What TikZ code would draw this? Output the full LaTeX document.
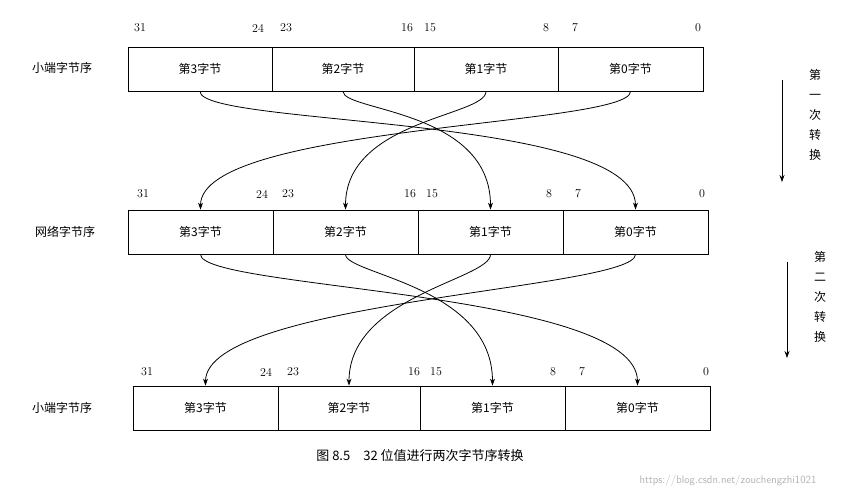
\documentclass[tikz,border=0pt]{standalone}
\usepackage{fontspec}
\newfontfamily\cjk{Noto Sans CJK SC}
\usetikzlibrary{arrows.meta}
\begin{document}
\begin{tikzpicture}[x=1pt,y=-1pt,
  cell/.style={draw,thick,minimum height=44pt,inner sep=0pt,font=\cjk\fontsize{12}{12}\selectfont},
  num/.style={font=\fontsize{12}{12}\selectfont,inner sep=0pt},
  lab/.style={font=\cjk\fontsize{12}{12}\selectfont,inner sep=0pt},
  conn/.style={thick,-{Stealth[length=7pt,width=5pt]}}]
\useasboundingbox (0,0) rectangle (865,500);
% row 1
\node[cell,minimum width=144pt] (a3) at (200,69) {第3字节};
\node[cell,minimum width=142pt] (a2) at (343,69) {第2字节};
\node[cell,minimum width=144pt] (a1) at (486,69) {第1字节};
\node[cell,minimum width=145pt] (a0) at (630.5,69) {第0字节};
\node[lab] (l1) at (62,68) {小端字节序};
\foreach \t/\x [count=\i] in {31/140,24/258,23/286,16/407,15/430,8/546,7/575,0/698}
  \node[num] (n1\i) at (\x,28) {\t};
% row 2
\node[cell,minimum width=145pt] (b3) at (200.5,232) {第3字节};
\node[cell,minimum width=145pt] (b2) at (345.5,232) {第2字节};
\node[cell,minimum width=145pt] (b1) at (490.5,232) {第1字节};
\node[cell,minimum width=145pt] (b0) at (635.5,232) {第0字节};
\node[lab] (l2) at (65,232) {网络字节序};
\foreach \t/\x [count=\i] in {31/143,24/262,23/288,16/410,15/432,8/549,7/578,0/702}
  \node[num] (n2\i) at (\x,194) {\t};
% row 3
\node[cell,minimum width=145pt] (c3) at (205.5,408) {第3字节};
\node[cell,minimum width=142pt] (c2) at (349,408) {第2字节};
\node[cell,minimum width=145pt] (c1) at (492.5,408) {第1字节};
\node[cell,minimum width=145pt] (c0) at (637.5,408) {第0字节};
\node[lab] (l3) at (62,408) {小端字节序};
\foreach \t/\x [count=\i] in {31/147,24/266,23/293,16/414,15/436,8/553,7/582,0/706}
  \node[num] (n3\i) at (\x,372) {\t};
% connectors 1->2
\draw[conn] (a3.south) .. controls +(0,35) and +(0,-95) .. (b0.north);
\draw[conn] (a0.south) .. controls +(0,35) and +(0,-85) .. (b3.north);
\draw[conn] (a2.south) .. controls +(0,20) and +(0,-100) .. (b1.north);
\draw[conn] (a1.south) .. controls +(0,25) and +(0,-90) .. (b2.north);
% connectors 2->3
\draw[conn] (b3.south) .. controls +(0,35) and +(0,-95) .. (c0.north);
\draw[conn] (b0.south) .. controls +(0,35) and +(0,-85) .. (c3.north);
\draw[conn] (b2.south) .. controls +(0,20) and +(0,-100) .. (c1.north);
\draw[conn] (b1.south) .. controls +(0,25) and +(0,-90) .. (c2.north);
% side arrows
\coordinate (s1) at (782,80); \coordinate (e1) at (782,182);
\draw[conn] (s1) -- (e1);
\node[lab,align=center] (t1) at (815,115) {第\\[8pt]一\\[8pt]次\\[8pt]转\\[8pt]换};
\coordinate (s2) at (787,262); \coordinate (e2) at (787,358);
\draw[conn] (s2) -- (e2);
\node[lab,align=center] (t2) at (820,297) {第\\[8pt]二\\[8pt]次\\[8pt]转\\[8pt]换};
% caption
\node[lab,font=\cjk\fontsize{13}{13}\selectfont] (cap) at (420,456) {图 8.5\quad 32 位值进行两次字节序转换};
\node[font=\sffamily\fontsize{11}{11}\selectfont,text=gray!60,inner sep=0pt] (wm) at (728,481) {https://blog.csdn.net/zouchengzhi1021};
\end{tikzpicture}
\end{document}
